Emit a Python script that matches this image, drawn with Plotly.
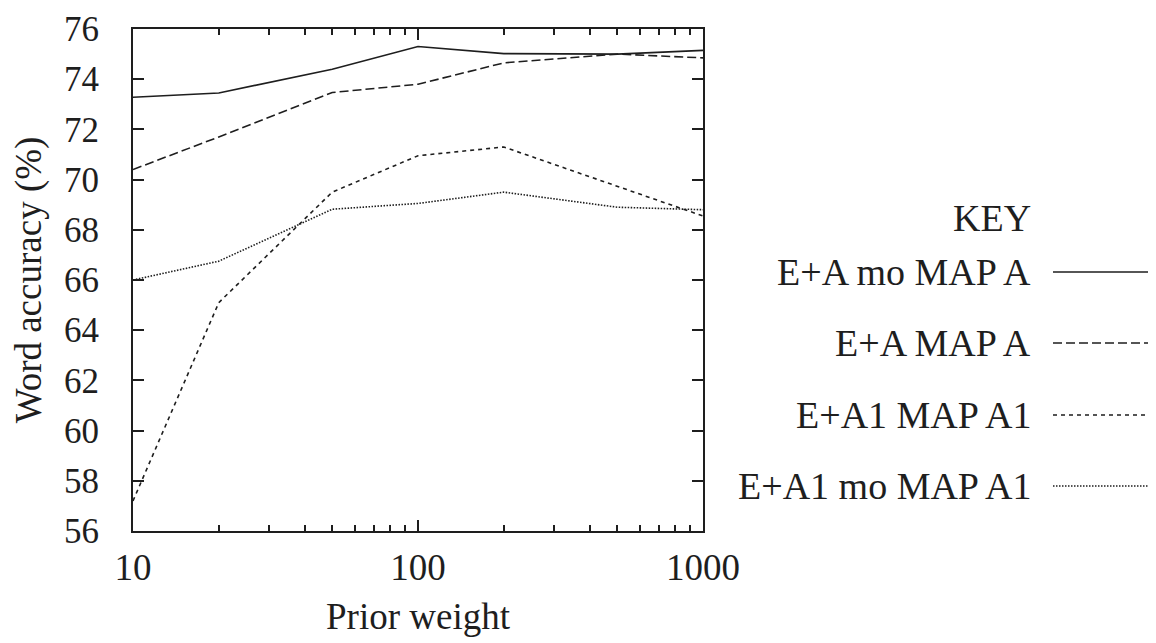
import plotly.graph_objects as go

# ---- data ----
prior_weight = [10, 20, 50, 100, 200, 500, 1000]
ea_mo_map_a = [73.28, 73.45, 74.4, 75.3, 75.02, 75.0, 75.15]
ea_map_a = [70.4, 71.7, 73.47, 73.8, 74.65, 75.0, 74.85]
ea1_map_a1 = [57.2, 65.1, 69.5, 70.95, 71.3, 69.75, 68.55]
ea1_mo_map_a1 = [66.0, 66.75, 68.82, 69.05, 69.5, 68.9, 68.8]
series_names = ["E+A mo MAP A", "E+A MAP A", "E+A1 MAP A1", "E+A1 mo MAP A1"]
y_ticks = list(range(56, 77, 2))
x_ticks = [10, 100, 1000]

W, H = 1156, 643
OFF = 8  # page body margin offset
# plot area in screen pixels
L, R, T, B = 133, 703, 29, 531
FONT = "Liberation Serif"
INK = "#1e1e1e"

dashes = ["solid", "9px,4px", "4px,4px", "1.5px,1.5px"]
series = [ea_mo_map_a, ea_map_a, ea1_map_a1, ea1_mo_map_a1]

fig = go.Figure()
for name, ys, d in zip(series_names, series, dashes):
    fig.add_trace(go.Scatter(x=prior_weight, y=ys, mode="lines", name=name,
                             line=dict(color=INK, width=1.6, dash=d),
                             showlegend=False))

def px_x(p):
    return (p - L) / (R - L)

def px_y(p):
    return (B - p) / (B - T)

# legend (text on left, sample on right)
annotations = [dict(text="KEY", x=px_x(1033), y=px_y(218), xref="paper", yref="paper",
                    xanchor="right", yanchor="middle", showarrow=False,
                    font=dict(family=FONT, size=38, color=INK))]
shapes = []
leg_y = [272, 343, 415, 486]
for name, d, yy in zip(series_names, dashes, leg_y):
    annotations.append(dict(text=name, x=px_x(1033), y=px_y(yy), xref="paper", yref="paper",
                            xanchor="right", yanchor="middle", showarrow=False,
                            font=dict(family=FONT, size=38, color=INK)))
    shapes.append(dict(type="line", xref="paper", yref="paper",
                       x0=px_x(1053), x1=px_x(1160), y0=px_y(yy), y1=px_y(yy),
                       line=dict(color=INK, width=1.6, dash=d)))

fig.update_layout(
    width=W, height=H,
    margin=dict(l=L - OFF, r=W - (R - OFF), t=T - OFF, b=H - (B - OFF), pad=0, autoexpand=False),
    paper_bgcolor="white", plot_bgcolor="white",
    font=dict(family=FONT, size=37, color=INK),
    annotations=annotations, shapes=shapes,
    xaxis=dict(type="log", range=[1, 3], tickvals=x_ticks, ticktext=[str(v) for v in x_ticks],
               ticks="inside", ticklen=11, tickwidth=1.8, tickcolor=INK,
               showline=True, linewidth=2, linecolor=INK, mirror="ticks",
               showgrid=False, zeroline=False, ticklabelstandoff=3, automargin=False,
               ticklabeloverflow="allow",
               tickfont=dict(family=FONT, size=37, color=INK),
               minor=dict(ticks="inside", ticklen=6, tickwidth=1.6, tickcolor=INK,
                          dtick="D1", showgrid=False),
               title=dict(text="Prior weight", standoff=16,
                          font=dict(family=FONT, size=37, color=INK))),
    yaxis=dict(range=[56, 76], tickvals=y_ticks,
               ticks="inside", ticklen=11, tickwidth=1.8, tickcolor=INK,
               showline=True, linewidth=2, linecolor=INK, mirror="ticks",
               showgrid=False, zeroline=False, ticklabelstandoff=25, automargin=False,
               ticklabeloverflow="allow",
               tickfont=dict(family=FONT, size=35, color=INK),
               title=dict(text="Word accuracy (%)", standoff=20,
                          font=dict(family=FONT, size=37, color=INK))),
)

fig.write_html("out.html")
